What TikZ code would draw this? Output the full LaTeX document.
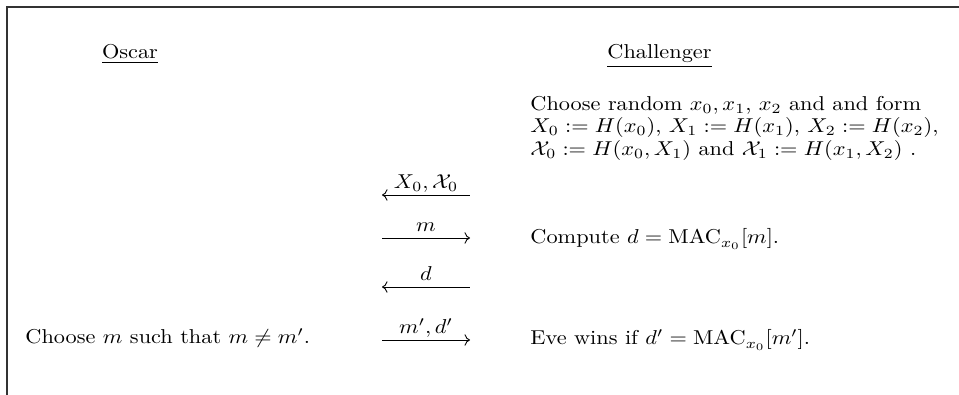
\documentclass[tikz,border=0pt]{standalone}
\usepackage{amsmath}
\usetikzlibrary{arrows.meta}
\tikzset{
  party/.style={anchor=base,inner sep=0pt,yscale=0.9},
  note/.style={anchor=base west,inner sep=0pt,yscale=0.9},
  msg/.style={thin,draw=black},
  msglabel/.style={anchor=base,inner sep=0pt,yshift=3pt,yscale=0.9}
}
\begin{document}
\begin{tikzpicture}[x=0.4484pt,y=-0.4484pt]
  \useasboundingbox (0,0) rectangle (959,395);
  % frame
  \draw[line width=0.6pt,black!80] (959,7) -- (7,7) -- (7,395);
  % parties
  \node[party] (oscar) at (130,59) {\underline{Oscar}};
  \node[party] (chal) at (659.5,59) {\underline{Challenger}};
  % challenger setup
  \node[anchor=north west,inner sep=0pt,align=left,yscale=0.9,
        font=\fontsize{10}{11.2}\selectfont] (setup) at (530,95.5)
    {Choose random $x_0,x_1$, $x_2$ and and form\\
     $X_0:=H(x_0)$, $X_1:=H(x_1)$, $X_2:=H(x_2)$,\\
     $\mathcal{X}_0:=H(x_0,X_1)$ and $\mathcal{X}_1:=H(x_1,X_2)$\ .};
  % messages
  \coordinate (l1) at (382,195); \coordinate (r1) at (470,195);
  \coordinate (l2) at (382,238); \coordinate (r2) at (470,238);
  \coordinate (l3) at (382,287); \coordinate (r3) at (470,287);
  \coordinate (l4) at (382,340); \coordinate (r4) at (470,340);
  \draw[msg,{To}-] (l1) -- node[msglabel]{$X_0,\mathcal{X}_0$} (r1);
  \draw[msg,-{To}] (l2) -- node[msglabel]{$m$} (r2);
  \draw[msg,{To}-] (l3) -- node[msglabel]{$d$} (r3);
  \draw[msg,-{To}] (l4) -- node[msglabel]{$m',d'$} (r4);
  % steps
  \node[note] (compute) at (530,244) {Compute $d=\mathrm{MAC}_{x_0}[m]$.};
  \node[note] (choose) at (25,344) {Choose $m$ such that $m\neq m'$.};
  \node[note] (wins) at (530,345) {Eve wins if $d'=\mathrm{MAC}_{x_0}[m']$.};
\end{tikzpicture}
\end{document}
